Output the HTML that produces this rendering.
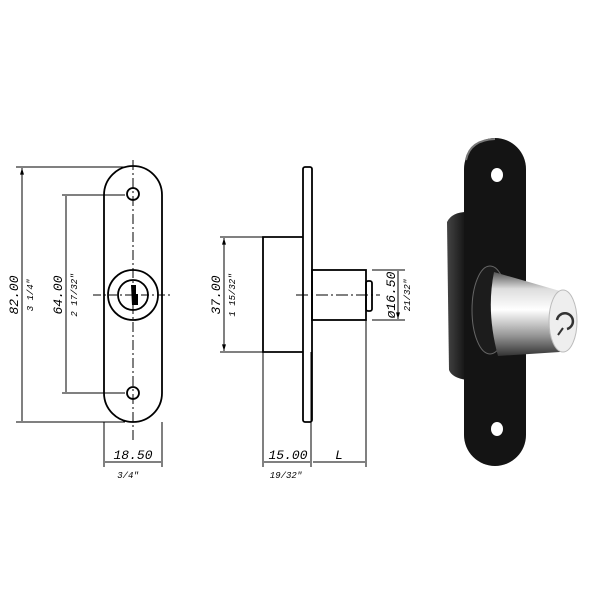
<!DOCTYPE html>
<html><head><style>body{margin:0;background:#fff}svg{display:block}text{font-family:"Liberation Mono",monospace;font-style:italic}</style></head>
<body>
<svg width="600" height="600" viewBox="0 0 600 600">
<defs>
<marker id="a" viewBox="0 0 10 6" refX="10" refY="3" markerWidth="8" markerHeight="4" orient="auto-start-reverse"><path d="M0,0L10,3L0,6z" fill="#000"/></marker>
<linearGradient id="cyl" x1="0" y1="0" x2="0" y2="1"><stop offset="0" stop-color="#555"/><stop offset="0.2" stop-color="#ddd"/><stop offset="0.45" stop-color="#fff"/><stop offset="0.75" stop-color="#999"/><stop offset="1" stop-color="#333"/></linearGradient>
<linearGradient id="bk" x1="0" y1="0" x2="1" y2="0"><stop offset="0" stop-color="#444"/><stop offset="1" stop-color="#111"/></linearGradient>
</defs>
<g stroke="#000" fill="none" stroke-width="1.8">
<rect x="104" y="166" width="58" height="256" rx="29"/>
<circle cx="133" cy="194" r="6"/><circle cx="133" cy="393" r="6"/>
<circle cx="133" cy="295" r="25"/><circle cx="133" cy="295" r="15"/>
</g>
<path d="M131,285h5v9h2v11h-6z" fill="#000"/>
<g stroke="#000" stroke-width="1" fill="none">
<path d="M133,160V440" stroke-dasharray="10,3,2,3"/>
<path d="M93,295H172" stroke-dasharray="8,3,2,3"/>
<path d="M16,167H125M16,422H125M62,195H125M62,393H125M104,422V467M162,422V467M311,352V467M263,352V467M366,320V467M372,270H405M372,320H405"/>
<path d="M22,168V421M66,196V392M105,462H161M264,462H310M313,462H365M398,271V319" marker-start="url(#a)" marker-end="url(#a)"/>
<path d="M220,237H263M220,352H263"/>
<path d="M224,238V351" marker-start="url(#a)" marker-end="url(#a)"/>
<path d="M296,295H380" stroke-dasharray="12,3,2,3"/>
</g>
<g stroke="#000" fill="none" stroke-width="1.8">
<rect x="303" y="167" width="9" height="255" rx="2"/>
<path d="M303,237H263V352H303"/>
<rect x="312" y="270" width="54" height="50"/>
<rect x="366" y="281" width="6" height="30" rx="2"/>
</g>
<g font-size="12">
<text transform="translate(18,295) rotate(-90)" text-anchor="middle" font-size="13">82.00</text>
<text transform="translate(33,295) rotate(-90)" text-anchor="middle" font-size="9">3 1/4"</text>
<text transform="translate(62,295) rotate(-90)" text-anchor="middle" font-size="13">64.00</text>
<text transform="translate(77,295) rotate(-90)" text-anchor="middle" font-size="9">2 17/32"</text>
<text x="133" y="459" text-anchor="middle" font-size="13">18.50</text>
<text x="128" y="478" text-anchor="middle" font-size="9">3/4"</text>
<text transform="translate(220,295) rotate(-90)" text-anchor="middle" font-size="13">37.00</text>
<text transform="translate(235,295) rotate(-90)" text-anchor="middle" font-size="9">1 15/32"</text>
<text x="288" y="459" text-anchor="middle" font-size="13">15.00</text>
<text x="286" y="478" text-anchor="middle" font-size="9">19/32"</text>
<text x="339" y="459" text-anchor="middle" font-size="13">L</text>
<text transform="translate(395,295) rotate(-90)" text-anchor="middle" font-size="13">ø16.50</text>
<text transform="translate(410,295) rotate(-90)" text-anchor="middle" font-size="9">21/32"</text>
</g>
<!-- photo -->
<path d="M447,222Q452,212 467,212V380Q452,378 449,370Z" fill="url(#bk)"/>
<rect x="464" y="138" width="62" height="328" rx="31" fill="#141414"/>
<path d="M466,160Q470,140 495,139" stroke="#777" stroke-width="2" fill="none"/>
<ellipse cx="497" cy="175" rx="6" ry="7" fill="#fff"/>
<ellipse cx="497" cy="429" rx="6" ry="7" fill="#fff"/>
<ellipse cx="490" cy="310" rx="18" ry="44" fill="#1c1c1c" stroke="#666"/>
<path d="M494,272L560,291V352L498,356Q486,312 494,272Z" fill="url(#cyl)"/>
<ellipse cx="563" cy="321" rx="14" ry="31" fill="#eee" stroke="#bbb"/>
<path d="M557,320a8,8 0 1 1 10,9" stroke="#333" stroke-width="2.5" fill="none"/>
<path d="M563,328l-5,7" stroke="#333" stroke-width="2"/>
</svg>
</body></html>
